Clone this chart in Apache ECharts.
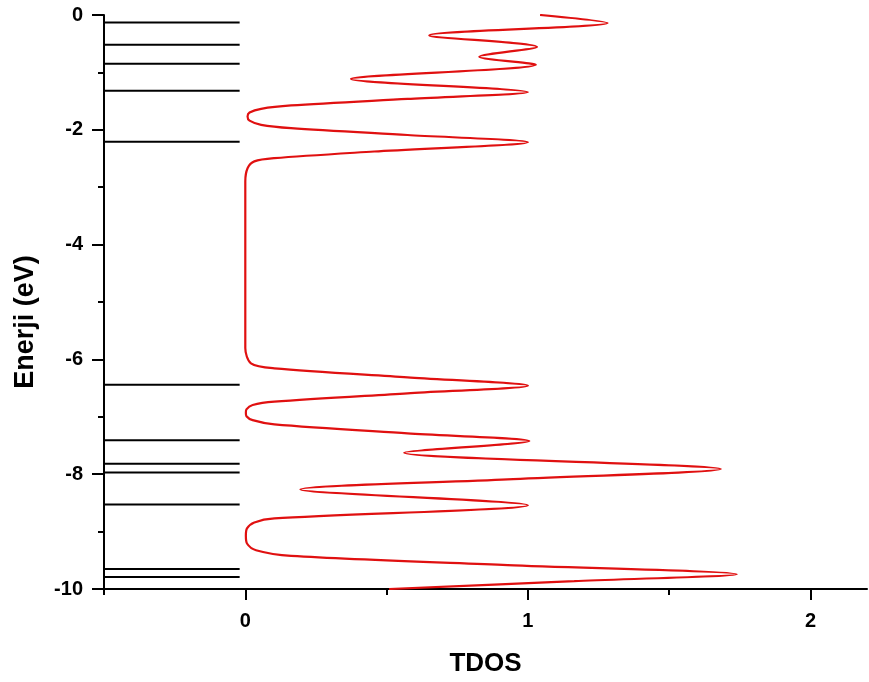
<!DOCTYPE html>
<html>
<head>
<meta charset="utf-8">
<title>TDOS</title>
<script src="https://cdn.jsdelivr.net/npm/echarts@6/dist/echarts.min.js"></script>
<style>
  html, body { margin: 0; padding: 0; background: #fff; }
  #chart { width: 869px; height: 682px; }
</style>
</head>
<body>
<div id="chart"></div>
<script>
// Molecular orbital energies (eV)
const levelEnergies = [-0.13, -0.52, -0.85, -1.32, -2.21, -6.44, -7.41, -7.82, -7.97, -8.53, -9.65, -9.79];

// Total density of states: [TDOS, energy (eV)] from top to bottom
const tdosCurve = [
  [1.043, 0.00], [1.282, -0.14], [0.651, -0.355], [1.032, -0.556], [0.828, -0.727],
  [1.028, -0.867], [0.374, -1.116], [1.000, -1.343], [0.574, -1.461], [0.162, -1.576],
  [0.056, -1.634], [0.015, -1.70], [0.008, -1.768], [0.015, -1.84], [0.056, -1.913],
  [0.162, -1.971], [0.574, -2.091], [1.000, -2.215], [0.456, -2.378], [0.103, -2.494],
  [0.032, -2.55], [0.008, -2.67], [0.000, -2.90], [0.000, -5.80], [0.020, -6.068],
  [0.103, -6.155], [0.574, -6.313], [1.000, -6.458], [0.574, -6.591], [0.103, -6.737],
  [0.026, -6.795], [0.004, -6.87], [0.002, -6.93], [0.004, -6.99], [0.026, -7.057],
  [0.103, -7.132], [0.574, -7.289], [1.005, -7.423], [0.562, -7.626], [1.683, -7.911],
  [0.928, -8.091], [0.195, -8.265], [1.000, -8.539], [0.103, -8.771], [0.032, -8.84],
  [0.006, -8.945], [0.002, -9.074], [0.006, -9.207], [0.038, -9.324], [0.162, -9.423],
  [0.928, -9.585], [1.739, -9.742], [1.164, -9.864], [0.509, -10.0]
];

// Axis tick values
const xLabelValues = [0, 1, 2];
const xMinorValues = [-0.5, 0.5, 1.5];
const yTickValues = [0, -2, -4, -6, -8, -10];

// Horizontal extent of the level bars, in TDOS units
const levelFrom = -0.5;
const levelTo = -0.02;

const FONT = '"Liberation Sans", Arial, sans-serif';

const levelSeries = levelEnergies.map(e => ({
  type: 'line',
  xAxisIndex: 0,
  yAxisIndex: 0,
  data: [[levelFrom, e], [levelTo, e]],
  symbol: 'none',
  silent: true,
  lineStyle: { color: '#000', width: 2 },
  z: 3
}));

const chart = echarts.init(document.getElementById('chart'), null, { renderer: 'canvas' });

chart.setOption({
  animation: false,
  backgroundColor: '#fff',
  grid: { left: 104, right: 2, top: 15, bottom: 93, outerBoundsMode: 'none' },
  xAxis: [
    {
      type: 'value',
      min: -0.5,
      max: 2.2,
      interval: 0.5,
      name: 'TDOS',
      nameLocation: 'middle',
      nameGap: 62,
      nameTextStyle: { fontFamily: FONT, fontSize: 26, fontWeight: 'bold', color: '#000' },
      axisLine: { show: true, onZero: false, lineStyle: { color: '#000', width: 2 } },
      axisTick: { show: true, customValues: xLabelValues, length: 11, lineStyle: { color: '#000', width: 2 } },
      axisLabel: {
        customValues: xLabelValues,
        fontFamily: FONT, fontSize: 20, fontWeight: 'bold', color: '#000', margin: 22
      },
      splitLine: { show: false }
    },
    {
      type: 'value',
      position: 'bottom',
      min: -0.5,
      max: 2.2,
      interval: 0.5,
      axisLine: { show: false, onZero: false },
      axisTick: { show: true, customValues: xMinorValues, length: 6, lineStyle: { color: '#000', width: 2 } },
      axisLabel: { show: false },
      splitLine: { show: false }
    }
  ],
  yAxis: {
    type: 'value',
    min: -10,
    max: 0,
    interval: 2,
    name: 'Enerji (eV)',
    nameLocation: 'middle',
    nameGap: 65,
    nameRotate: 90,
    nameTextStyle: {
      fontFamily: FONT, fontSize: 27, fontWeight: 'bold', color: '#000',
      padding: [0, 40, 0, 0]
    },
    axisLine: { show: true, onZero: false, lineStyle: { color: '#000', width: 2 } },
    axisTick: { show: true, length: 12, lineStyle: { color: '#000', width: 2 } },
    minorTick: { show: true, splitNumber: 2, length: 6, lineStyle: { color: '#000', width: 2 } },
    axisLabel: {
      customValues: yTickValues,
      fontFamily: FONT, fontSize: 20, fontWeight: 'bold', color: '#000', margin: 21
    },
    splitLine: { show: false },
    minorSplitLine: { show: false }
  },
  series: levelSeries.concat([
    {
      type: 'line',
      name: 'TDOS',
      xAxisIndex: 0,
      yAxisIndex: 0,
      data: tdosCurve,
      symbol: 'none',
      smooth: 0.3,
      silent: true,
      lineStyle: { color: '#e01010', width: 2.2 },
      z: 4
    }
  ])
});
</script>
</body>
</html>
